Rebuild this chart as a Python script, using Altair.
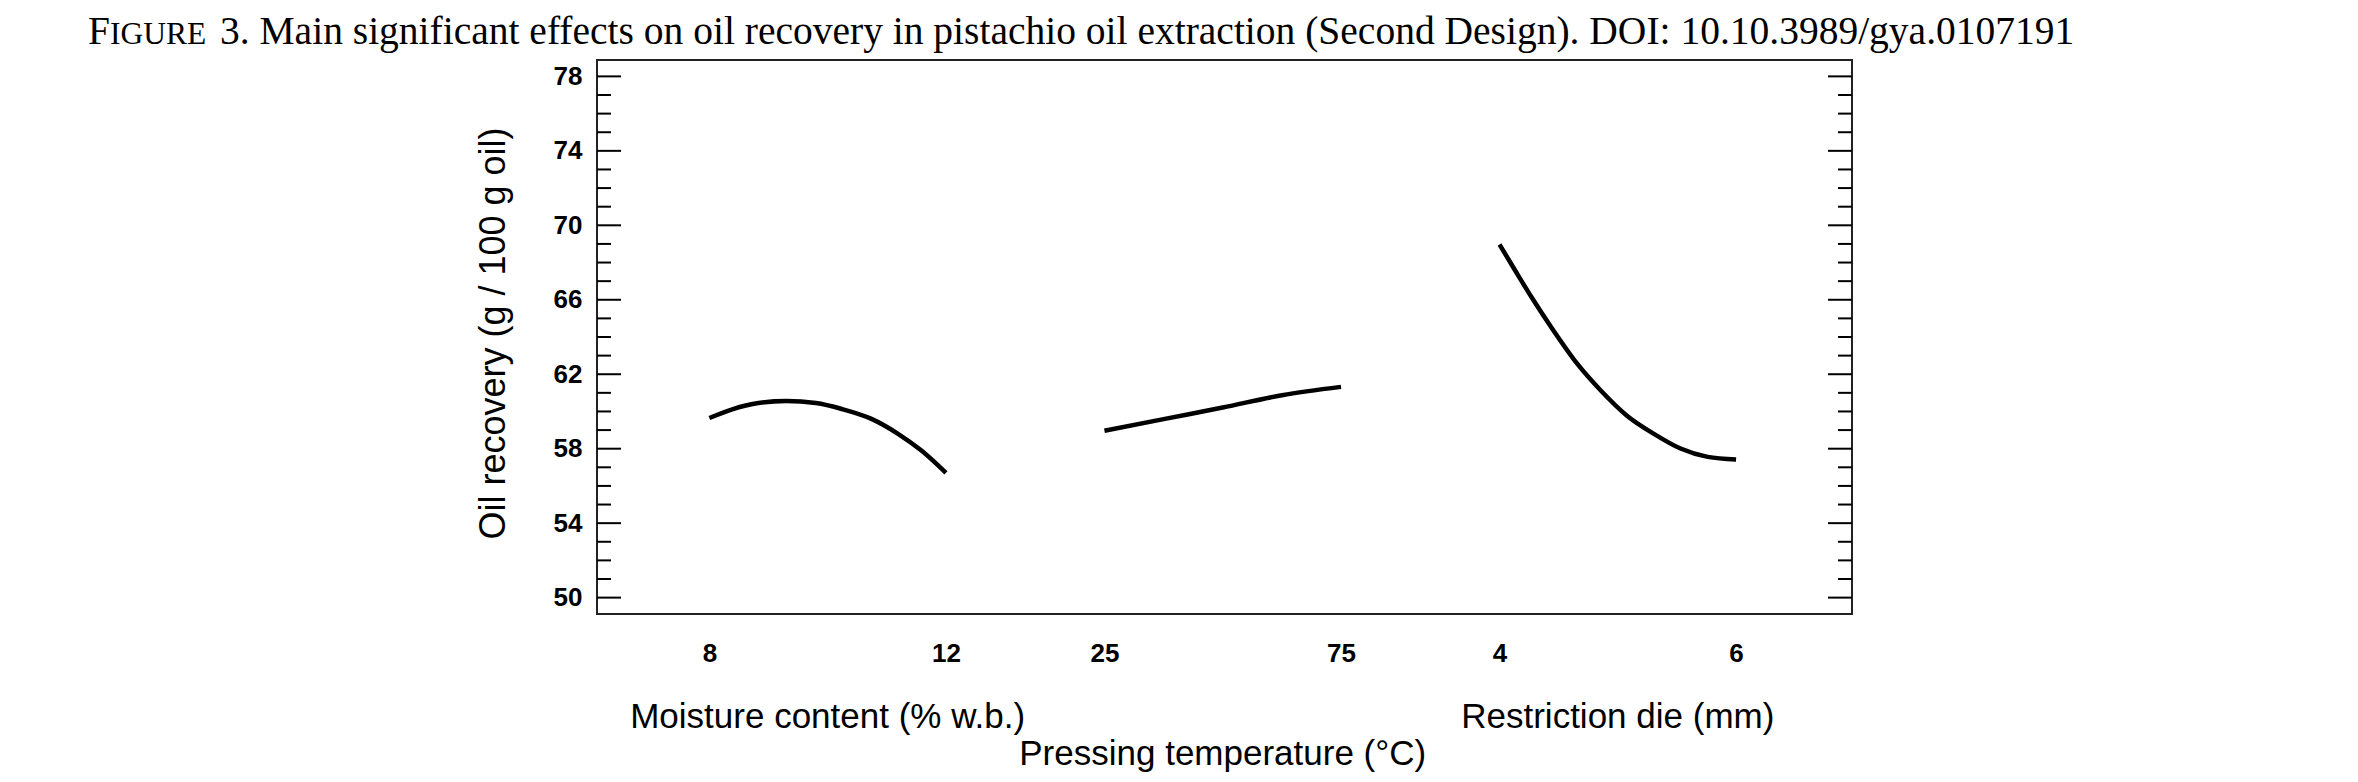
import pandas as pd
import altair as alt

# caption, split so "IGURE" can be set in small capitals
caption_first = "F"
caption_small = "IGURE"
caption_rest = " 3. Main significant effects on oil recovery in pistachio oil extraction (Second Design). DOI: 10.10.3989/gya.0107191"

# factors and their low / high levels (x axis labels)
factor_names = ["Moisture content (% w.b.)", "Pressing temperature (°C)", "Restriction die (mm)"]
factor_low = [8, 25, 4]
factor_high = [12, 75, 6]

# main effect curves
moisture_level = [8.0, 8.4, 8.8, 9.3, 9.8, 10.24, 10.74, 11.19, 11.58, 12.0]
moisture_rec = [59.65, 60.13, 60.44, 60.56, 60.45, 60.13, 59.6, 58.8, 57.91, 56.7]

temp_level = [25, 37.5, 50, 62.5, 75]
temp_rec = [58.96, 59.59, 60.21, 60.87, 61.32]

die_level = [4.0, 4.13, 4.27, 4.44, 4.66, 4.86, 5.08, 5.31, 5.53, 5.76, 6.0]
die_rec = [68.97, 67.6, 66.15, 64.5, 62.54, 61.1, 59.76, 58.78, 58.01, 57.56, 57.42]

y_major = [50, 54, 58, 62, 66, 70, 74, 78]
y_minor = [v for v in range(50, 79) if v not in y_major]

# layout: each factor gets one unit of the shared x axis
slot_start = [0, 1.67, 3.34]
x_domain = [-0.475, 4.83]
W, H = 1255, 554

rows = []
for i, (lev, rec) in enumerate([(moisture_level, moisture_rec), (temp_level, temp_rec), (die_level, die_rec)]):
    lo, hi = factor_low[i], factor_high[i]
    for l, r in zip(lev, rec):
        rows.append({"factor": factor_names[i], "pos": slot_start[i] + (l - lo) / (hi - lo), "recovery": r})
curves = pd.DataFrame(rows)

tick_pos, tick_txt = [], []
for i in range(3):
    tick_pos += [slot_start[i], slot_start[i] + 1]
    tick_txt += [str(factor_low[i]), str(factor_high[i])]
label_expr = " : ".join(f"datum.value < {p + 0.1} ? '{t}'" for p, t in zip(tick_pos, tick_txt)) + " : ''"

ticks = pd.DataFrame({
    "recovery": y_major + y_minor,
    "kind": ["major"] * len(y_major) + ["minor"] * len(y_minor),
})

names = pd.DataFrame({
    "name": factor_names,
    "pos": [s + 0.5 for s in slot_start],
    "row": [0, 1, 0],
})

xscale = alt.Scale(domain=x_domain, nice=False, zero=False)
yscale = alt.Scale(domain=[49.12, 78.88], nice=False, zero=False)

x_enc = alt.X("pos:Q", scale=xscale, axis=alt.Axis(
    values=tick_pos, labelExpr=label_expr, title=None, grid=False, ticks=False,
    tickSize=0, domain=False, labelFont="Liberation Sans", labelFontSize=26,
    labelFontWeight="bold", labelColor="black", labelPadding=39,
    labelBaseline="middle", labelFlush=False, labelOverlap=False))

y_enc = alt.Y("recovery:Q", scale=yscale, axis=alt.Axis(
    values=y_major, format="d", grid=False, ticks=False, tickSize=0, domain=False,
    labelFont="Liberation Sans", labelFontSize=26, labelFontWeight="bold",
    labelColor="black", labelPadding=15,
    title="Oil recovery (g / 100 g oil)", titleFont="Liberation Sans",
    titleFontSize=36, titleFontWeight="normal", titleColor="black",
    titleX=-104, titleY=273, titleAlign="center", titleBaseline="middle"))

lines = alt.Chart(curves).mark_line(color="black", strokeWidth=4.5, interpolate="monotone").encode(
    x=x_enc, y=y_enc, detail="factor:N"
)

def tick_layer(kind, x0, x1):
    return alt.Chart(ticks).transform_filter(f"datum.kind == '{kind}'").mark_rule(
        color="black", strokeWidth=2
    ).encode(y=y_enc, x=alt.value(x0), x2=alt.value(x1))

tick_layers = [
    tick_layer("major", 0, 24), tick_layer("minor", 0, 14),
    tick_layer("major", W, W - 24), tick_layer("minor", W, W - 14),
]

name_style = dict(font="Liberation Sans", fontSize=35, color="black", baseline="alphabetic")
names_top = alt.Chart(names).transform_filter("datum.row == 0").mark_text(**name_style).encode(
    x=x_enc, y=alt.value(668), text="name:N")
names_low = alt.Chart(names).transform_filter("datum.row == 1").mark_text(**name_style).encode(
    x=x_enc, y=alt.value(705), text="name:N")

one = pd.DataFrame({"a": [0]})
cap_style = dict(font="Liberation Serif", color="black", align="left", baseline="alphabetic")
cap1 = alt.Chart(one).mark_text(text=caption_first, fontSize=39.5, **cap_style).encode(
    x=alt.value(-509), y=alt.value(-16))
cap2 = alt.Chart(one).mark_text(text=caption_small, fontSize=31.5, **cap_style).encode(
    x=alt.value(-487), y=alt.value(-16))
cap3 = alt.Chart(one).mark_text(text=caption_rest, fontSize=39.5, **cap_style).encode(
    x=alt.value(-377), y=alt.value(-16))

chart = alt.layer(lines, *tick_layers, names_top, names_low, cap1, cap2, cap3).properties(
    width=W, height=H, autosize="none",
    padding={"left": 589, "top": 52, "right": 498, "bottom": 160},
    background="white",
).configure_view(stroke="#222", strokeWidth=2)

chart.save("out.html", embed_options={"renderer": "svg", "actions": False})
